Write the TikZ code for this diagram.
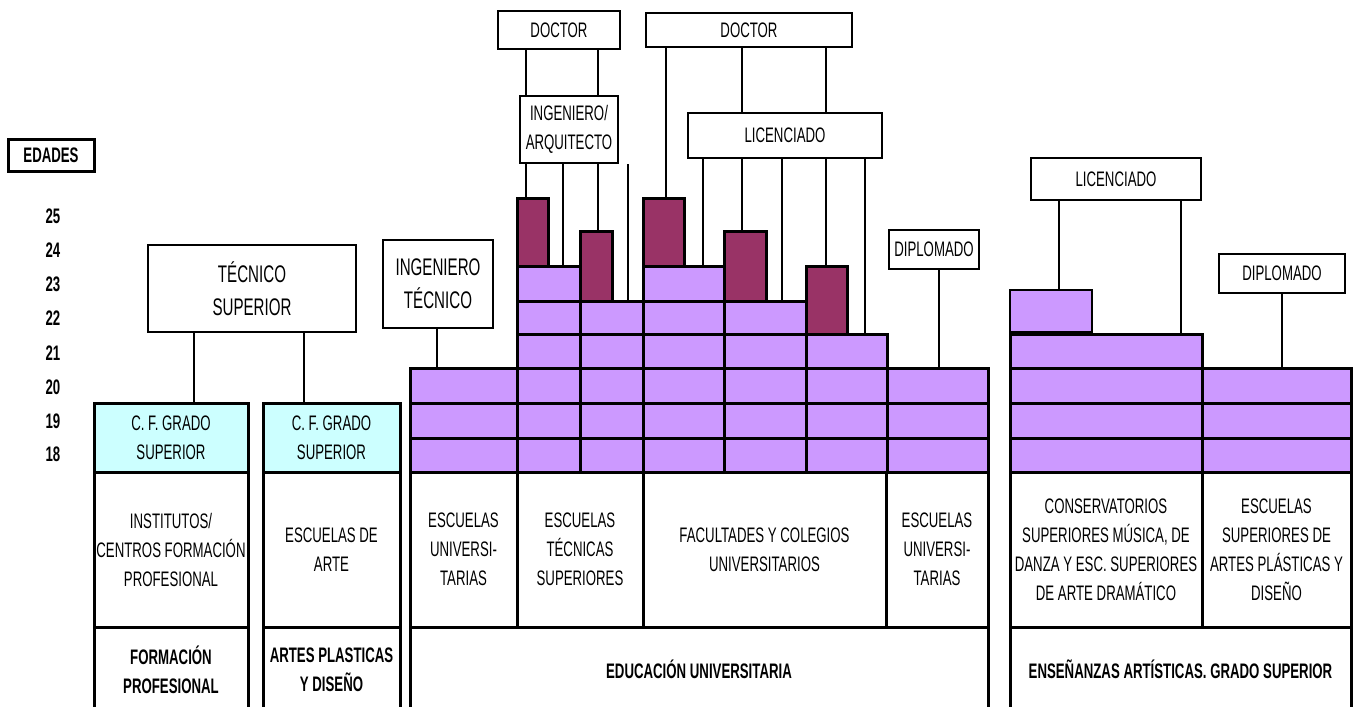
\documentclass[tikz,border=0pt]{standalone}
\usepackage{fontspec}
\setmainfont[FakeStretch=0.63]{Liberation Sans}
\definecolor{lav}{RGB}{204,153,255}
\definecolor{maroon}{RGB}{153,51,102}
\definecolor{cyanl}{RGB}{204,255,255}
\tikzset{
  txt/.style={inner sep=0pt, align=center, font=\fontsize{21}{29}\selectfont},
  bigtxt/.style={inner sep=0pt, align=center, font=\fontsize{24}{33}\selectfont},
  boldtxt/.style={inner sep=0pt, align=center, font=\bfseries\fontsize{21}{29}\selectfont},
  lblbox/.style={draw, line width=1.8pt, fill=white, inner sep=0pt},
  thickbox/.style={draw, line width=3pt, fill=white, inner sep=0pt},
  purplecell/.style={draw, line width=3pt, fill=lav, inner sep=0pt},
  maroonbar/.style={draw, line width=3pt, fill=maroon, inner sep=0pt},
  cyancell/.style={draw, line width=3pt, fill=cyanl, inner sep=0pt},
  smallpurple/.style={draw, line width=2pt, fill=lav, inner sep=0pt},
  con/.style={line width=1.4pt},
}
% #1 name, #2 box style, #3 x1, #4 y1, #5 x2, #6 y2
\newcommand\mybox[6]{\node[#2, minimum width={(#5)-(#3)}, minimum height={(#6)-(#4)}] (#1) at ({((#3)+(#5))/2},{((#4)+(#6))/2}) {};}
% #7 text style, #8 text
\newcommand\mycell[8]{\mybox{#1}{#2}{#3}{#4}{#5}{#6}\node[#7] (#1-t) at (#1.center) {#8};}
\begin{document}
\begin{tikzpicture}[x=1pt,y=-1pt]
\useasboundingbox (0,0) rectangle (1358,707);

% EDADES and ages
\mycell{edades}{thickbox}{8}{139}{94}{171}{boldtxt}{EDADES}
\foreach \a/\yy in {25/216,24/250,23/284,22/318,21/353,20/387,19/421,18/454}
  \node[boldtxt] (age\a) at (53,\yy) {\a};

% lower purple rows (20,19,18)
\foreach \r/\ya/\yb in {20/368/403,19/403/438,18/438/472}{
  \foreach \c/\xa/\xb in {1/410/517,2/517/580,3/580/643,4/643/724,5/724/806,6/806/887,7/887/988,8/1010/1202,9/1202/1351}{
    \mybox{r\r-\c}{purplecell}{\xa}{\ya}{\xb}{\yb}
  }
}
% row 21
\foreach \c/\xa/\xb in {2/517/580,3/580/643,4/643/724,5/724/806,6/806/887}{
  \mybox{r21-\c}{purplecell}{\xa}{334}{\xb}{368}
}
\mybox{r21-8}{purplecell}{1010}{334}{1202}{368}
% row 22
\foreach \c/\xa/\xb in {2/517/580,3/580/643,4/643/724,5/724/806}{
  \mybox{r22-\c}{purplecell}{\xa}{301}{\xb}{334}
}
% row 23
\mybox{r23-2}{purplecell}{517}{266}{580}{301}
\mybox{r23-4}{purplecell}{643}{266}{724}{301}
% maroon bars
\mybox{m1}{maroonbar}{517}{198}{548}{266}
\mybox{m2}{maroonbar}{580}{231}{612}{301}
\mybox{m3}{maroonbar}{643}{198}{684}{266}
\mybox{m4}{maroonbar}{724}{231}{766}{301}
\mybox{m5}{maroonbar}{806}{266}{847}{334}
% small purple box right
\mybox{sp}{smallpurple}{1010}{290}{1092}{332}

% cyan boxes
\mycell{cf1}{cyancell}{94}{403}{248}{472}{txt}{C. F. GRADO\\SUPERIOR}
\mycell{cf2}{cyancell}{263}{403}{400}{472}{txt}{C. F. GRADO\\SUPERIOR}

% institution cells
\mycell{i1}{thickbox}{94}{472}{248}{627}{txt}{INSTITUTOS/\\CENTROS FORMACIÓN\\PROFESIONAL}
\mycell{i2}{thickbox}{263}{472}{400}{627}{txt}{ESCUELAS DE\\ARTE}
\mycell{i3a}{thickbox}{410}{472}{517}{627}{txt}{ESCUELAS\\UNIVERSI-\\TARIAS}
\mycell{i3b}{thickbox}{517}{472}{643}{627}{txt}{ESCUELAS\\TÉCNICAS\\SUPERIORES}
\mycell{i3c}{thickbox}{643}{472}{886}{627}{txt}{FACULTADES Y COLEGIOS\\UNIVERSITARIOS}
\mycell{i3d}{thickbox}{886}{472}{988}{627}{txt}{ESCUELAS\\UNIVERSI-\\TARIAS}
\mycell{i4a}{thickbox}{1010}{472}{1202}{627}{txt}{CONSERVATORIOS\\SUPERIORES MÚSICA, DE\\DANZA Y ESC. SUPERIORES\\DE ARTE DRAMÁTICO}
\mycell{i4b}{thickbox}{1202}{472}{1351}{627}{txt}{ESCUELAS\\SUPERIORES DE\\ARTES PLÁSTICAS Y\\DISEÑO}

% bottom label cells
\mycell{l1}{thickbox}{94}{627}{248}{712}{boldtxt}{FORMACIÓN\\PROFESIONAL}
\mycell{l2}{thickbox}{263}{627}{400}{712}{boldtxt}{ARTES PLASTICAS\\Y DISEÑO}
\mycell{l3}{thickbox}{410}{627}{988}{712}{boldtxt}{EDUCACIÓN UNIVERSITARIA}
\mycell{l4}{thickbox}{1010}{627}{1351}{712}{boldtxt}{ENSEÑANZAS ARTÍSTICAS. GRADO SUPERIOR}

% title boxes
\mycell{tecsup}{lblbox}{148}{245}{356}{332}{bigtxt}{TÉCNICO\\SUPERIOR}
\mycell{ingtec}{lblbox}{383}{240}{493}{328}{bigtxt}{INGENIERO\\TÉCNICO}
\mycell{docL}{lblbox}{498}{11}{620}{49}{txt}{DOCTOR}
\mycell{docR}{lblbox}{646}{13}{852}{47}{txt}{DOCTOR}
\mycell{ingarq}{lblbox}{520}{96}{618}{163}{txt}{INGENIERO/\\ARQUITECTO}
\mycell{licM}{lblbox}{688}{113}{882}{158}{txt}{LICENCIADO}
\mycell{diplL}{lblbox}{889}{230}{979}{269}{txt}{DIPLOMADO}
\mycell{licR}{lblbox}{1031}{158}{1201}{200}{txt}{LICENCIADO}
\mycell{diplR}{lblbox}{1219}{254}{1345}{293}{txt}{DIPLOMADO}

% connectors
\draw[con] (194,0 |- tecsup.south) -- (194,0 |- cf1.north);
\draw[con] (304,0 |- tecsup.south) -- (304,0 |- cf2.north);
\draw[con] (437,0 |- ingtec.south) -- (437,0 |- r20-1.north);
\draw[con] (526,0 |- docL.south) -- (526,0 |- ingarq.north);
\draw[con] (598,0 |- docL.south) -- (598,0 |- ingarq.north);
\draw[con] (526,0 |- ingarq.south) -- (526,0 |- m1.north);
\draw[con] (563,0 |- ingarq.south) -- (563,0 |- r23-2.north);
\draw[con] (598,0 |- ingarq.south) -- (598,0 |- m2.north);
\coordinate (free) at (628,164);
\draw[con] (free) -- (free |- r22-3.north);
\draw[con] (666,0 |- docR.south) -- (666,0 |- m3.north);
\draw[con] (742,0 |- docR.south) -- (742,0 |- licM.north);
\draw[con] (826,0 |- docR.south) -- (826,0 |- licM.north);
\draw[con] (703,0 |- licM.south) -- (703,0 |- r23-4.north);
\draw[con] (742,0 |- licM.south) -- (742,0 |- m4.north);
\draw[con] (782,0 |- licM.south) -- (782,0 |- r22-5.north);
\draw[con] (826,0 |- licM.south) -- (826,0 |- m5.north);
\draw[con] (865,0 |- licM.south) -- (865,0 |- r21-6.north);
\draw[con] (939,0 |- diplL.south) -- (939,0 |- r20-7.north);
\draw[con] (1059,0 |- licR.south) -- (1059,0 |- sp.north);
\draw[con] (1181,0 |- licR.south) -- (1181,0 |- r21-8.north);
\draw[con] (1282,0 |- diplR.south) -- (1282,0 |- r20-9.north);
\end{tikzpicture}
\end{document}
